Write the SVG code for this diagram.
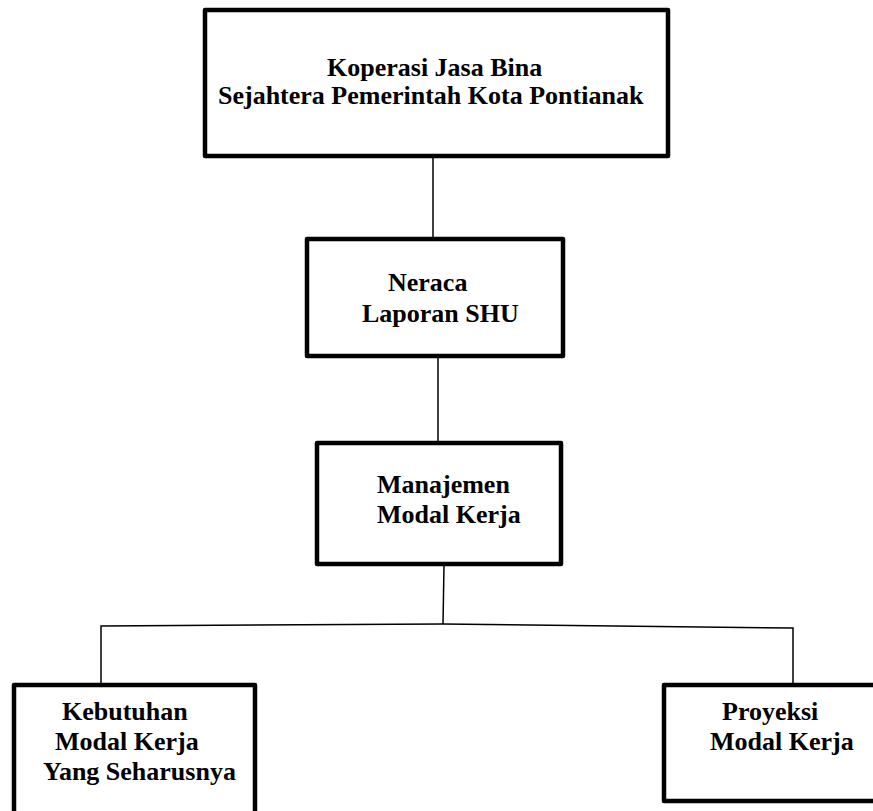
<svg xmlns="http://www.w3.org/2000/svg" width="873" height="811" viewBox="0 0 873 811">
<style>
.box{fill:#fff;stroke:#000;stroke-width:4.5;stroke-linejoin:round}
.lbl{font-family:"Liberation Serif","Times New Roman",serif;font-weight:bold;font-size:26px;fill:#000}
.conn{fill:none;stroke:#000;stroke-width:1.5}
</style>
<rect width="873" height="811" fill="#fff"/>
<g id="connectors">
<line class="conn" x1="433" y1="158" x2="433" y2="238"/>
<line class="conn" x1="438" y1="357" x2="438" y2="442"/>
<line class="conn" x1="444" y1="565" x2="443" y2="624"/>
<polyline class="conn" points="101,684 101,626 443,624 793,628 793,684"/>
</g>
<g id="koperasi">
<rect class="box" x="205" y="10" width="463" height="146"/>
<text class="lbl" x="327" y="76">Koperasi Jasa Bina</text>
<text class="lbl" x="218" y="104">Sejahtera Pemerintah Kota Pontianak</text>
</g>
<g id="neraca">
<rect class="box" x="307" y="239" width="256" height="117"/>
<text class="lbl" x="388" y="291">Neraca</text>
<text class="lbl" x="362" y="322">Laporan SHU</text>
</g>
<g id="manajemen">
<rect class="box" x="317" y="443" width="244" height="121"/>
<text class="lbl" x="377" y="493">Manajemen</text>
<text class="lbl" x="377" y="523">Modal Kerja</text>
</g>
<g id="kebutuhan">
<rect class="box" x="14" y="685" width="241" height="140"/>
<text class="lbl" x="62" y="720">Kebutuhan</text>
<text class="lbl" x="55" y="750">Modal Kerja</text>
<text class="lbl" x="43" y="780">Yang Seharusnya</text>
</g>
<g id="proyeksi">
<rect class="box" x="664" y="685" width="220" height="116"/>
<text class="lbl" x="722" y="720">Proyeksi</text>
<text class="lbl" x="710" y="750">Modal Kerja</text>
</g>
</svg>
